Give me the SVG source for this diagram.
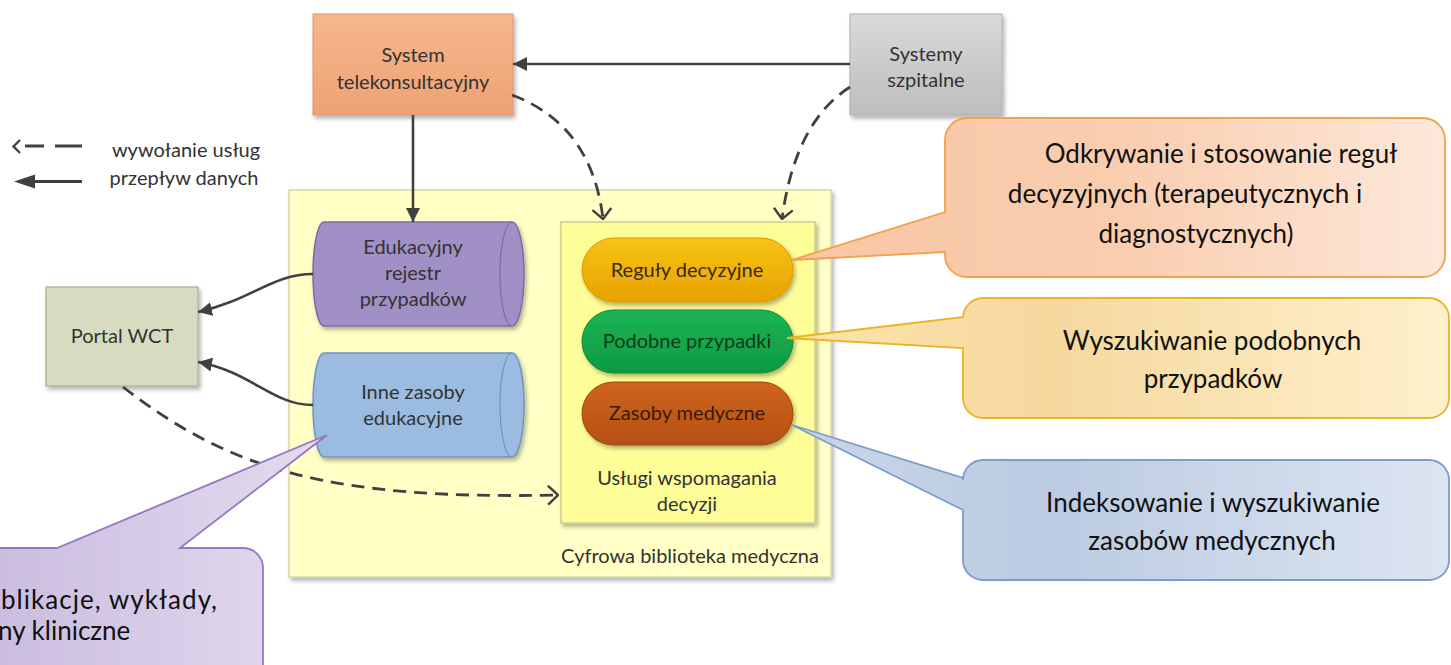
<svg xmlns="http://www.w3.org/2000/svg" width="1451" height="665" viewBox="0 0 1451 665">
  <defs>
    <style>
      .t { font-family: Lato, "Open Sans", "Liberation Sans", sans-serif; font-size: 20px; fill: #333; text-anchor: middle; }
      .ct { font-family: Lato, "Open Sans", "Liberation Sans", sans-serif; font-size: 26px; fill: #111; text-anchor: middle; }
      .flow { fill: none; stroke: #404040; stroke-width: 2.6; }
      .call { fill: none; stroke: #404040; stroke-width: 2.8; stroke-dasharray: 13 8; }
    </style>
    <filter id="sh" x="-10%" y="-10%" width="125%" height="130%">
      <feDropShadow dx="2" dy="3" stdDeviation="2" flood-color="#000" flood-opacity="0.3"/>
    </filter>
    <marker id="solid" viewBox="0 0 14 14" refX="14" refY="7" markerWidth="14" markerHeight="14" markerUnits="userSpaceOnUse" orient="auto">
      <path d="M0,0 L14,7 L0,14 Z" fill="#404040"/>
    </marker>
    <marker id="open" viewBox="0 0 12 22" refX="11" refY="11" markerWidth="12" markerHeight="22" markerUnits="userSpaceOnUse" orient="auto">
      <path d="M1,1.5 L11,11 L1,20.5" fill="none" stroke="#404040" stroke-width="2.4"/>
    </marker>
    <linearGradient id="gTele" x1="0" y1="0" x2="0" y2="1">
      <stop offset="0" stop-color="#f5b78c"/>
      <stop offset="1" stop-color="#eea275"/>
    </linearGradient>
    <linearGradient id="gHosp" x1="0" y1="0" x2="0" y2="1">
      <stop offset="0" stop-color="#dadada"/>
      <stop offset="1" stop-color="#bdbdbd"/>
    </linearGradient>
    <linearGradient id="gRule" x1="0" y1="0" x2="0" y2="1">
      <stop offset="0" stop-color="#f6c416"/>
      <stop offset="1" stop-color="#e9a100"/>
    </linearGradient>
    <linearGradient id="gSim" x1="0" y1="0" x2="0" y2="1">
      <stop offset="0" stop-color="#1cb354"/>
      <stop offset="1" stop-color="#0d9a41"/>
    </linearGradient>
    <linearGradient id="gRes" x1="0" y1="0" x2="0" y2="1">
      <stop offset="0" stop-color="#cf6520"/>
      <stop offset="1" stop-color="#b54f12"/>
    </linearGradient>
    <linearGradient id="cOrange" x1="0" y1="0" x2="1" y2="0">
      <stop offset="0" stop-color="#f8c6a4"/>
      <stop offset="0.5" stop-color="#f9cdaf"/>
      <stop offset="1" stop-color="#fde8da"/>
    </linearGradient>
    <linearGradient id="cYellow" x1="0" y1="0" x2="1" y2="0">
      <stop offset="0" stop-color="#fde3ad"/>
      <stop offset="0.4" stop-color="#f5d89e"/>
      <stop offset="1" stop-color="#fff1cd"/>
    </linearGradient>
    <linearGradient id="cBlue" x1="0" y1="0" x2="1" y2="0">
      <stop offset="0" stop-color="#c9d5e8"/>
      <stop offset="0.4" stop-color="#bccbe2"/>
      <stop offset="1" stop-color="#dce5f2"/>
    </linearGradient>
    <linearGradient id="cPurple" x1="0" y1="0" x2="1" y2="0">
      <stop offset="0" stop-color="#c9bade"/>
      <stop offset="1" stop-color="#e3dcf0"/>
    </linearGradient>
  </defs>

  <!-- legend -->
  <g id="legend">
    <path d="M20,140 L13.5,146.5 L20,153" fill="none" stroke="#404040" stroke-width="2.4"/>
    <path d="M25,146 H44 M55,146 H82" stroke="#404040" stroke-width="2.8"/>
    <text class="t" x="186" y="157">wywołanie usług</text>
    <path d="M14,181.5 L35,174.5 L35,188.5 Z" fill="#404040"/>
    <path d="M34,181.5 H82" stroke="#404040" stroke-width="2.8"/>
    <text class="t" x="184" y="185">przepływ danych</text>
  </g>

  <!-- digital medical library container -->
  <g id="library">
    <rect x="289" y="190" width="542" height="387" fill="#ffffc6" stroke="#d9d8a6" stroke-width="1.5" filter="url(#sh)"/>
    <text class="t" x="690" y="563">Cyfrowa biblioteka medyczna</text>
  </g>

  <g id="services">
    <rect x="561" y="222" width="254" height="301" fill="#fefe98" stroke="#cfcd8e" stroke-width="1.5" filter="url(#sh)"/>
    <text class="t" x="687" y="485">Usługi wspomagania</text>
    <text class="t" x="687" y="511">decyzji</text>
  </g>

  <g id="rules">
    <rect x="582" y="238" width="211" height="64" rx="32" fill="url(#gRule)" stroke="#d99a00" stroke-width="1" filter="url(#sh)"/>
    <text class="t" x="687" y="277" style="fill:#3b2a05">Reguły decyzyjne</text>
  </g>
  <g id="similar">
    <rect x="582" y="310" width="211" height="63" rx="31.5" fill="url(#gSim)" stroke="#0c8a3a" stroke-width="1" filter="url(#sh)"/>
    <text class="t" x="687" y="348" style="fill:#0b3a1c">Podobne przypadki</text>
  </g>
  <g id="resources">
    <rect x="582" y="382" width="211" height="63" rx="31.5" fill="url(#gRes)" stroke="#9f4410" stroke-width="1" filter="url(#sh)"/>
    <text class="t" x="687" y="420" style="fill:#3a1a05">Zasoby medyczne</text>
  </g>

  <g id="case-registry">
    <path d="M324,222 H512 A12,52 0 0 1 512,326 H324 A11,52 0 0 1 324,222 Z" fill="#a090c6" stroke="#7d6ba8" stroke-width="1.5" filter="url(#sh)"/>
    <path d="M512,222 A12,52 0 0 0 512,326" fill="none" stroke="#7d6ba8" stroke-width="1.2"/>
    <text class="t" x="413" y="254">Edukacyjny</text>
    <text class="t" x="413" y="280">rejestr</text>
    <text class="t" x="413" y="306">przypadków</text>
  </g>

  <g id="edu-resources">
    <path d="M324,353 H512 A12,52 0 0 1 512,457 H324 A11,52 0 0 1 324,353 Z" fill="#9cbbe0" stroke="#6f94c4" stroke-width="1.5" filter="url(#sh)"/>
    <path d="M512,353 A12,52 0 0 0 512,457" fill="none" stroke="#6f94c4" stroke-width="1.2"/>
    <text class="t" x="413" y="399">Inne zasoby</text>
    <text class="t" x="413" y="425">edukacyjne</text>
  </g>

  <g id="telekonsultacja">
    <rect x="313" y="14" width="200" height="101" fill="url(#gTele)" stroke="#e0956a" stroke-width="1" filter="url(#sh)"/>
    <text class="t" x="413" y="62">System</text>
    <text class="t" x="413" y="89">telekonsultacyjny</text>
  </g>

  <g id="szpital">
    <rect x="850" y="14" width="152" height="101" fill="url(#gHosp)" stroke="#b0b0b0" stroke-width="1" filter="url(#sh)"/>
    <text class="t" x="926" y="61">Systemy</text>
    <text class="t" x="926" y="87">szpitalne</text>
  </g>

  <g id="portal">
    <rect x="46" y="287" width="152" height="99" fill="#d7dcc1" stroke="#aab094" stroke-width="1.2" filter="url(#sh)"/>
    <text class="t" x="122" y="343">Portal WCT</text>
  </g>

  <!-- connectors -->
  <g id="connectors">
    <path class="flow" d="M413,115 V222" marker-end="url(#solid)"/>
    <path class="flow" d="M850,64 H513" marker-end="url(#solid)"/>
    <path class="flow" d="M313,274 C272,274 252,300 198,312" marker-end="url(#solid)"/>
    <path class="flow" d="M313,405 C272,405 252,372 198,362" marker-end="url(#solid)"/>
    <path class="call" d="M512,95 Q592,125 603,219" marker-end="url(#open)"/>
    <path class="call" d="M850,87 Q795,122 782,219" marker-end="url(#open)"/>
    <path class="call" d="M123,387 C230,470 330,500 558,495" marker-end="url(#open)"/>
  </g>

  <!-- callouts -->
  <g id="callout-rules">
    <path d="M967,118 H1423 A22,22 0 0 1 1445,140 V255 A22,22 0 0 1 1423,277 H967 A22,22 0 0 1 945,255 V252 L792,260 L945,212 V140 A22,22 0 0 1 967,118 Z" fill="url(#cOrange)" stroke="#f5a04c" stroke-width="1.8"/>
    <text class="ct" x="1221" y="163">Odkrywanie i stosowanie reguł</text>
    <text class="ct" x="1185" y="203">decyzyjnych (terapeutycznych i</text>
    <text class="ct" x="1196" y="243">diagnostycznych)</text>
  </g>

  <g id="callout-similar">
    <path d="M983,298 H1429 A20,20 0 0 1 1449,318 V398 A20,20 0 0 1 1429,418 H983 A20,20 0 0 1 963,398 V348 L787,338 L963,317 V318 A20,20 0 0 1 983,298 Z" fill="url(#cYellow)" stroke="#e8b624" stroke-width="1.8"/>
    <text class="ct" x="1212" y="350">Wyszukiwanie podobnych</text>
    <text class="ct" x="1213" y="388">przypadków</text>
  </g>

  <g id="callout-resources">
    <path d="M983,460 H1429 A20,20 0 0 1 1449,480 V560 A20,20 0 0 1 1429,580 H983 A20,20 0 0 1 963,560 V510 L792,425 L963,478 V480 A20,20 0 0 1 983,460 Z" fill="url(#cBlue)" stroke="#7d9cc9" stroke-width="1.8"/>
    <text class="ct" x="1213" y="512">Indeksowanie i wyszukiwanie</text>
    <text class="ct" x="1212" y="550">zasobów medycznych</text>
  </g>

  <g id="callout-edu">
    <path d="M-30,548 H57 L327,435 L180,548 H243 A20,20 0 0 1 263,568 V690 H-30 Z" fill="url(#cPurple)" stroke="#9478c2" stroke-width="1.8"/>
    <text class="ct" x="1" y="609" style="text-anchor:start" textLength="216" lengthAdjust="spacing">blikacje, wykłady,</text>
    <text class="ct" x="-2" y="640" style="text-anchor:start">ny kliniczne</text>
  </g>
</svg>
